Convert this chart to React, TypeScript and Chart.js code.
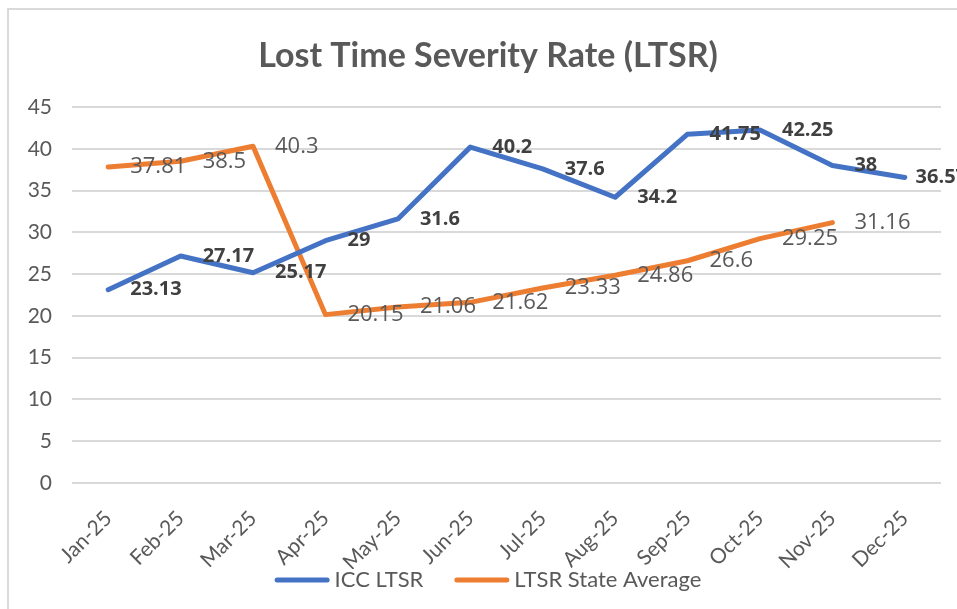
import React, { useEffect, useRef } from "react";
import { Chart, registerables } from "chart.js";

Chart.register(...registerables);

const chartTitle = "Lost Time Severity Rate (LTSR)";
const categories = ["Jan-25", "Feb-25", "Mar-25", "Apr-25", "May-25", "Jun-25", "Jul-25", "Aug-25", "Sep-25", "Oct-25", "Nov-25", "Dec-25"];
const iccLtsr = [23.13, 27.17, 25.17, 29, 31.6, 40.2, 37.6, 34.2, 41.75, 42.25, 38, 36.57];
const stateAverage: (number | null)[] = [37.81, 38.5, 40.3, 20.15, 21.06, 21.62, 23.33, 24.86, 26.6, 29.25, 31.16, null];
const yTicks = [0, 5, 10, 15, 20, 25, 30, 35, 40, 45];

const BLUE = "#4472C4";
const ORANGE = "#ED7D31";
const TEXT = "#595959";

const labelFonts = ["bold 20px 'Open Sans'", "22px 'Open Sans'"];
const labelColors = ["#404040", TEXT];

const decorPlugin = {
  id: "decor",
  afterDatasetsDraw(chart: any) {
    const ctx = chart.ctx;
    chart.data.datasets.forEach((ds: any, i: number) => {
      const meta = chart.getDatasetMeta(i);
      ctx.save();
      ctx.font = labelFonts[i];
      ctx.fillStyle = labelColors[i];
      ctx.textAlign = "left";
      ctx.textBaseline = "middle";
      meta.data.forEach((pt: any, j: number) => {
        const v = ds.data[j];
        if (v === null || v === undefined) return;
        const txt = String(v);
        const w = ctx.measureText(txt).width;
        const x = Math.min(pt.x + 22, chart.width + 10 - w);
        ctx.fillText(txt, x, pt.y);
      });
      ctx.restore();
    });
  },
  afterDraw(chart: any) {
    const ctx = chart.ctx;
    const cx = 488;
    ctx.save();
    // title
    ctx.font = "bold 34px Lato";
    ctx.fillStyle = TEXT;
    ctx.textAlign = "center";
    ctx.textBaseline = "middle";
    ctx.fillText(chartTitle, cx, 56);
    // legend
    ctx.font = "22px Lato";
    const lineLen = 55;
    const gap = 5;
    const itemGap = 31;
    const items = chart.data.datasets.map((ds: any) => ({
      text: ds.label,
      color: ds.borderColor,
      w: lineLen + gap + ctx.measureText(ds.label).width,
    }));
    const total = items.reduce((a: number, it: any) => a + it.w, 0) + itemGap * (items.length - 1);
    let x = cx - total / 2;
    const y = 580;
    items.forEach((it: any) => {
      ctx.strokeStyle = it.color;
      ctx.lineWidth = 5;
      ctx.lineCap = "round";
      ctx.beginPath();
      ctx.moveTo(x + 2.5, y);
      ctx.lineTo(x + lineLen - 2.5, y);
      ctx.stroke();
      ctx.fillStyle = TEXT;
      ctx.textAlign = "left";
      ctx.textBaseline = "middle";
      ctx.fillText(it.text, x + lineLen + gap, y);
      x += it.w + itemGap;
    });
    ctx.restore();
  },
};

export default function App() {
  const ref = useRef<HTMLCanvasElement>(null);
  useEffect(() => {
    if (!ref.current) return;
    const chart = new Chart(ref.current, {
      type: "line",
      data: {
        labels: categories,
        datasets: [
          {
            label: "ICC LTSR",
            data: iccLtsr,
            borderColor: BLUE,
            backgroundColor: BLUE,
            borderWidth: 5,
            pointRadius: 0,
            tension: 0,
            borderCapStyle: "round",
            borderJoinStyle: "round",
          },
          {
            label: "LTSR State Average",
            data: stateAverage,
            borderColor: ORANGE,
            backgroundColor: ORANGE,
            borderWidth: 5,
            pointRadius: 0,
            tension: 0,
            borderCapStyle: "round",
            borderJoinStyle: "round",
          },
        ],
      },
      options: {
        animation: false,
        responsive: false,
        maintainAspectRatio: false,
        layout: { padding: { left: 10, right: 16, top: 107, bottom: 40 } },
        plugins: {
          title: { display: false },
          legend: { display: false },
          tooltip: { enabled: false },
        },
        scales: {
          x: {
            offset: true,
            grid: { display: false },
            border: { display: false },
            ticks: {
              color: TEXT,
              font: { family: "Lato", size: 21 },
              minRotation: 45,
              maxRotation: 45,
              padding: 15,
            },
            afterFit: (s: any) => {
              s.height = 86;
            },
          },
          y: {
            min: 0,
            max: 45,
            afterBuildTicks: (s: any) => {
              s.ticks = yTicks.map((v) => ({ value: v }));
            },
            grid: { color: "#D9D9D9", lineWidth: 2, drawTicks: false },
            border: { display: false },
            ticks: {
              color: TEXT,
              font: { family: "Lato", size: 21 },
              padding: 20,
            },
            afterFit: (s: any) => {
              s.width = 62;
            },
          },
        },
      },
      plugins: [decorPlugin],
    });
    return () => chart.destroy();
  }, []);

  return (
    <div style={{ position: "fixed", left: 0, top: 0, width: 957, height: 609, overflow: "hidden", background: "#fff" }}>
      <div
        style={{
          position: "absolute",
          left: 7,
          top: 8,
          width: 1000,
          height: 700,
          borderLeft: "2px solid #D9D9D9",
          borderTop: "2px solid #D9D9D9",
        }}
      />
      <canvas ref={ref} width={957} height={609} style={{ position: "absolute", left: 0, top: 0 }} />
    </div>
  );
}
